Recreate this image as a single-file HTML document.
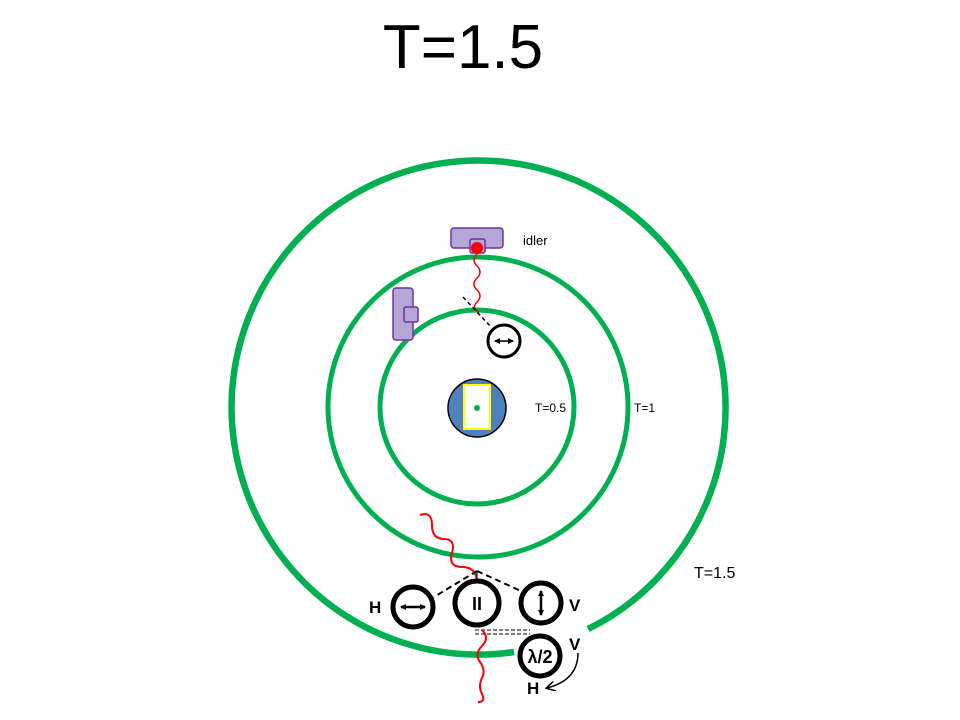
<!DOCTYPE html>
<html><head><style>
html,body{margin:0;padding:0;background:#fff;}
svg{display:block;font-family:"Liberation Sans",sans-serif;}
</style></head><body>
<svg width="960" height="720" viewBox="0 0 960 720" xmlns="http://www.w3.org/2000/svg">
<defs>
<marker id="ah" markerWidth="6" markerHeight="6" refX="5" refY="3" orient="auto-start-reverse" markerUnits="userSpaceOnUse"><path d="M0,0 L6,3 L0,6 Z" fill="#000"/></marker>
<marker id="ah2" markerWidth="10" markerHeight="10" refX="8" refY="5" orient="auto" markerUnits="userSpaceOnUse"><path d="M0,0 L9,5 L0,10" fill="none" stroke="#000" stroke-width="1.5"/></marker>
</defs>
<text x="463" y="68" font-size="62" text-anchor="middle">T=1.5</text>
<circle cx="477" cy="407" r="97" fill="none" stroke="#00b050" stroke-width="5"/>
<circle cx="478" cy="407" r="150" fill="none" stroke="#00b050" stroke-width="5"/>
<path d="M588,629 A247,247 0 1 0 514,652" fill="none" stroke="#00b050" stroke-width="6.5"/>
<text x="535" y="412" font-size="12">T=0.5</text>
<text x="634" y="412" font-size="12">T=1</text>
<text x="694" y="578" font-size="16">T=1.5</text>
<text x="523" y="245" font-size="13">idler</text>
<!-- idler -->
<rect x="451" y="228" width="52" height="20" rx="3" fill="#b4a7d6" stroke="#7030a0" stroke-width="1.5"/>
<rect x="470" y="239" width="15" height="14" rx="2" fill="#b4a7d6" stroke="#7030a0" stroke-width="1.5"/>
<path d="M477,254 q-6,6 0,12 t0,12 t0,12 t0,12 t2,10" fill="none" stroke="#ff0000" stroke-width="1.5"/>
<circle cx="477" cy="248" r="6" fill="#ff0000"/>
<rect x="393" y="288" width="20" height="52" rx="3" fill="#b4a7d6" stroke="#7030a0" stroke-width="1.5"/>
<rect x="404" y="307" width="14" height="15" rx="2" fill="#b4a7d6" stroke="#7030a0" stroke-width="1.5"/>
<line x1="463" y1="297" x2="491" y2="327" stroke="#000" stroke-width="1.5" stroke-dasharray="4,3"/>
<circle cx="504" cy="341" r="16" fill="#fff" stroke="#000" stroke-width="3"/>
<line x1="495" y1="341" x2="513" y2="341" stroke="#000" stroke-width="1.5" marker-start="url(#ah)" marker-end="url(#ah)"/>
<!-- center -->
<circle cx="477" cy="408" r="29" fill="#4f81bd" stroke="#000" stroke-width="1.5"/>
<rect x="464" y="385" width="26" height="44" fill="#fff" stroke="#ffff00" stroke-width="2"/>
<circle cx="477" cy="408" r="3" fill="#00b050"/>
<!-- bottom -->
<path d="M420,515 q12,-4 12,10 t12,14 t8,14 t10,14 t15,14" fill="none" stroke="#ff0000" stroke-width="2"/>
<line x1="477" y1="571" x2="434" y2="597" stroke="#000" stroke-width="2" stroke-dasharray="6,4"/>
<line x1="477" y1="571" x2="521" y2="591" stroke="#000" stroke-width="2" stroke-dasharray="6,4"/>
<line x1="477" y1="571" x2="477" y2="581" stroke="#000" stroke-width="1"/>
<line x1="475" y1="630" x2="530" y2="630" stroke="#000" stroke-width="1" stroke-dasharray="4,2"/>
<line x1="475" y1="634" x2="530" y2="634" stroke="#000" stroke-width="1" stroke-dasharray="4,2"/>
<path d="M482,630 q8,8 0,16 t-2,16 t2,16 t0,16 t-4,8" fill="none" stroke="#ff0000" stroke-width="2"/>
<circle cx="413" cy="607" r="20" fill="none" stroke="#000" stroke-width="5"/>
<line x1="401" y1="607" x2="425" y2="607" stroke="#000" stroke-width="2.5" marker-start="url(#ah)" marker-end="url(#ah)"/>
<circle cx="477" cy="603" r="22" fill="none" stroke="#000" stroke-width="5"/>
<text x="477" y="610" font-size="18" font-weight="bold" text-anchor="middle">II</text>
<circle cx="541" cy="603" r="20" fill="none" stroke="#000" stroke-width="5"/>
<line x1="541" y1="591" x2="541" y2="615" stroke="#000" stroke-width="2.5" marker-start="url(#ah)" marker-end="url(#ah)"/>
<circle cx="540" cy="656" r="20" fill="#fff" stroke="#000" stroke-width="5"/>
<text x="540" y="663" font-size="18" font-weight="bold" text-anchor="middle">λ/2</text>
<text x="369" y="613" font-size="17" font-weight="bold">H</text>
<text x="569" y="611" font-size="17" font-weight="bold">V</text>
<text x="569" y="650" font-size="17" font-weight="bold">V</text>
<text x="527" y="694" font-size="17" font-weight="bold">H</text>
<path d="M578,653 Q578,680 547,688" fill="none" stroke="#000" stroke-width="1.5" marker-end="url(#ah2)"/>
</svg>
</body></html>
